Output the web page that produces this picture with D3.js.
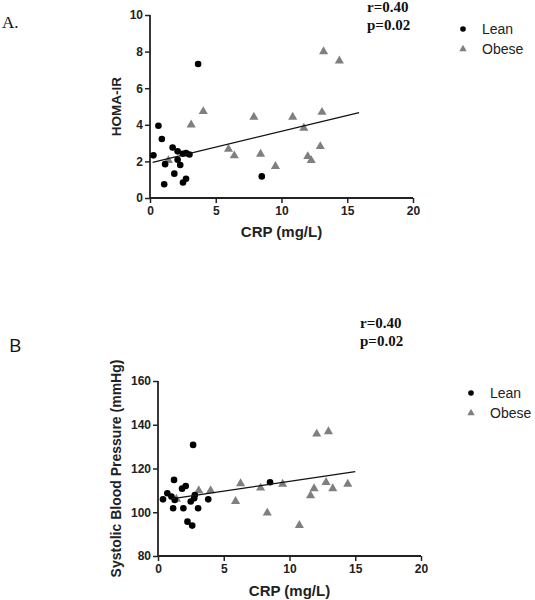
<!DOCTYPE html>
<html>
<head>
<meta charset="utf-8">
<script src="https://cdn.jsdelivr.net/npm/d3@7"></script>
<style>
  html, body { margin: 0; padding: 0; background: #fff; }
  svg { display: block; }
  .tick text { font-family: "Liberation Sans", Arial, sans-serif; font-weight: bold; font-size: 12px; fill: #222; }
</style>
</head>
<body>
<svg id="chart" width="535" height="600"></svg>
<script>
// ---------- Data ----------
// Panel A: HOMA-IR vs CRP
const leanCrpA  = [0.26, 0.64, 0.9, 1.08, 1.15, 1.72, 1.85, 2.1, 2.1, 2.3, 2.49, 2.74, 3.0, 2.51, 2.74, 3.66, 8.5];
const leanHomaA = [2.33, 3.95, 3.22, 0.75, 1.85, 2.76, 1.33, 2.55, 2.09, 1.8, 2.42, 2.45, 2.38, 0.85, 1.05, 7.32, 1.18];
const obeseCrpA  = [1.4, 3.13, 4.05, 5.97, 6.41, 7.9, 8.41, 9.54, 10.85, 11.7, 12.0, 12.26, 12.95, 13.08, 13.2, 14.4];
const obeseHomaA = [2.05, 4.0, 4.73, 2.67, 2.31, 4.42, 2.4, 1.73, 4.42, 3.82, 2.27, 2.05, 2.82, 4.69, 8.0, 7.5];
const fitCrpA  = [0.2, 15.9];
const fitHomaA = [1.95, 4.67];
const xTicksA = [0, 5, 10, 15, 20];
const yTicksA = [0, 2, 4, 6, 8, 10];

// Panel B: Systolic blood pressure vs CRP
const leanCrpB = [0.38, 0.71, 1.02, 1.22, 1.15, 1.27, 1.83, 2.11, 1.93, 2.24, 2.6, 2.49, 2.75, 2.8, 3.05, 3.82, 2.67, 8.52];
const leanSbpB = [105.9, 108.7, 107.2, 114.8, 101.8, 105.6, 110.8, 112.0, 101.8, 95.7, 93.9, 104.9, 106.4, 107.9, 101.8, 105.9, 130.8, 113.7];
const obeseCrpB = [1.4, 3.1, 4.0, 5.9, 6.28, 7.8, 8.31, 9.48, 10.75, 11.6, 11.87, 12.07, 12.78, 12.96, 13.29, 14.43];
const obeseSbpB = [106.0, 109.9, 109.9, 105.0, 113.1, 111.1, 99.7, 112.9, 94.0, 107.6, 110.8, 135.8, 113.7, 136.9, 110.8, 112.9];
const fitCrpB = [1.0, 15.0];
const fitSbpB = [106.1, 118.6];
const xTicksB = [0, 5, 10, 15, 20];
const yTicksB = [80, 100, 120, 140, 160];

const seriesNames = ["Lean", "Obese"];
const statText = ["r=0.40", "p=0.02"];

// ---------- Drawing ----------
const svg = d3.select("#chart");
const GREY = "#7f7f7f";
const SANS = "'Liberation Sans', Arial, sans-serif";
const SERIF = "'Liberation Serif', 'Times New Roman', serif";

function zip(a, b) { return a.map((v, i) => [v, b[i]]); }

function panel(cfg) {
  const g = svg.append("g");
  const x = d3.scaleLinear().domain(cfg.xDomain).range([cfg.left, cfg.right]);
  const y = d3.scaleLinear().domain(cfg.yDomain).range([cfg.bottom, cfg.top]);

  const xAxis = g.append("g").attr("transform", `translate(0,${cfg.bottom})`)
    .call(d3.axisBottom(x).tickValues(cfg.xTicks).tickSize(5).tickPadding(3).tickFormat(d3.format("d")));
  const yAxis = g.append("g").attr("transform", `translate(${cfg.left},0)`)
    .call(d3.axisLeft(y).tickValues(cfg.yTicks).tickSize(5).tickPadding(2).tickFormat(d3.format("d")));
  [xAxis, yAxis].forEach(a => {
    a.select(".domain").attr("stroke", "#222").attr("stroke-width", 1.8);
    a.selectAll(".tick line").attr("stroke", "#222").attr("stroke-width", 1.5);
  });
  xAxis.select(".domain").attr("d", `M${cfg.left},0H${cfg.right}`);
  yAxis.select(".domain").attr("d", `M0,${cfg.bottom}V${cfg.top}`);

  // axis titles
  g.append("text").attr("x", (cfg.left + cfg.right) / 2).attr("y", cfg.xTitleY)
    .attr("text-anchor", "middle").attr("font-family", SANS).attr("font-weight", "bold")
    .attr("font-size", 15).attr("fill", "#222").text("CRP (mg/L)");
  g.append("text")
    .attr("transform", `translate(${cfg.yTitleX},${(cfg.top + cfg.bottom) / 2}) rotate(-90)`)
    .attr("text-anchor", "middle").attr("font-family", SANS).attr("font-weight", "bold")
    .attr("font-size", cfg.yTitleSize).attr("fill", "#222").text(cfg.yTitle);

  const tri = d3.symbol().type(d3.symbolTriangle).size(36);
  // obese triangles
  g.append("g").selectAll("path").data(zip(cfg.obeseX, cfg.obeseY)).join("path")
    .attr("d", tri).attr("fill", GREY)
    .attr("transform", d => `translate(${x(d[0])},${y(d[1])})`);
  // lean circles
  g.append("g").selectAll("circle").data(zip(cfg.leanX, cfg.leanY)).join("circle")
    .attr("cx", d => x(d[0])).attr("cy", d => y(d[1])).attr("r", 3.3).attr("fill", "#000");
  // fit line
  g.append("path").datum(zip(cfg.fitX, cfg.fitY))
    .attr("d", d3.line().x(d => x(d[0])).y(d => y(d[1])))
    .attr("fill", "none").attr("stroke", "#111").attr("stroke-width", 1.3);

  // stats
  statText.forEach((t, i) => {
    g.append("text").attr("x", cfg.statX).attr("y", cfg.statY + i * 18)
      .attr("font-family", SERIF).attr("font-weight", "bold").attr("font-size", 15)
      .attr("fill", "#111").text(t);
  });

  // legend
  const lg = g.append("g").attr("transform", `translate(${cfg.legX},${cfg.legY})`);
  lg.append("circle").attr("cx", 0).attr("cy", 0).attr("r", 2.8).attr("fill", "#000");
  lg.append("path").attr("d", d3.symbol().type(d3.symbolTriangle).size(24)).attr("fill", GREY)
    .attr("transform", "translate(0,20)");
  seriesNames.forEach((n, i) => {
    lg.append("text").attr("x", 19).attr("y", i * 20).attr("dy", "0.36em")
      .attr("font-family", SANS).attr("font-size", 14).attr("fill", "#222").text(n);
  });

  // panel letter
  g.append("text").attr("x", cfg.letterX).attr("y", cfg.letterY)
    .attr("font-family", cfg.letterFont).attr("font-size", cfg.letterSize)
    .attr("fill", "#111").text(cfg.letter);
}

panel({
  xDomain: [0, 20], yDomain: [0, 10], left: 150, right: 413, top: 15, bottom: 198,
  xTicks: xTicksA, yTicks: yTicksA,
  leanX: leanCrpA, leanY: leanHomaA, obeseX: obeseCrpA, obeseY: obeseHomaA,
  fitX: fitCrpA, fitY: fitHomaA,
  xTitleY: 237, yTitleX: 121, yTitle: "HOMA-IR", yTitleSize: 13.5,
  statX: 367, statY: 12, legX: 463, legY: 29,
  letter: "A.", letterX: 2, letterY: 28, letterFont: SERIF, letterSize: 17
});

panel({
  xDomain: [0, 20], yDomain: [80, 160], left: 158, right: 421, top: 381, bottom: 556,
  xTicks: xTicksB, yTicks: yTicksB,
  leanX: leanCrpB, leanY: leanSbpB, obeseX: obeseCrpB, obeseY: obeseSbpB,
  fitX: fitCrpB, fitY: fitSbpB,
  xTitleY: 596, yTitleX: 121, yTitle: "Systolic Blood Pressure (mmHg)", yTitleSize: 14,
  statX: 360, statY: 328, legX: 471, legY: 393,
  letter: "B", letterX: 9, letterY: 352, letterFont: "'Open Sans', 'Noto Sans', sans-serif", letterSize: 19
});
</script>
</body>
</html>
